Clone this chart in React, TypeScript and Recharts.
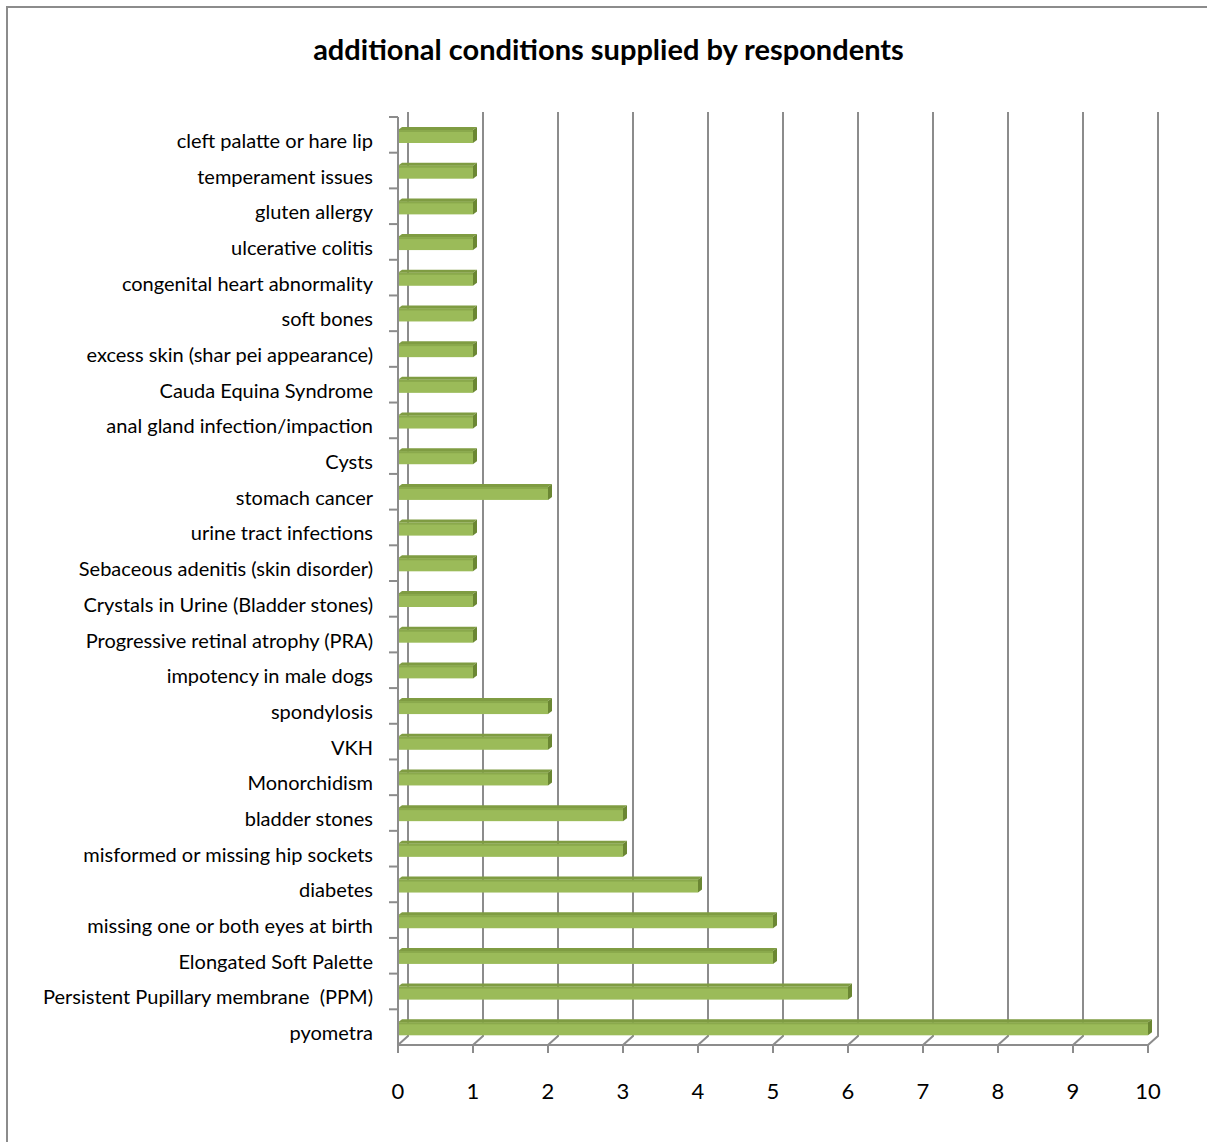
import React from "react";
import { BarChart, Bar, XAxis, YAxis, CartesianGrid } from "recharts";

const conditions = [
  "cleft palatte or hare lip",
  "temperament issues",
  "gluten allergy",
  "ulcerative colitis",
  "congenital heart abnormality",
  "soft bones",
  "excess skin (shar pei appearance)",
  "Cauda Equina Syndrome",
  "anal gland infection/impaction",
  "Cysts",
  "stomach cancer",
  "urine tract infections",
  "Sebaceous adenitis (skin disorder)",
  "Crystals in Urine (Bladder stones)",
  "Progressive retinal atrophy (PRA)",
  "impotency in male dogs",
  "spondylosis",
  "VKH",
  "Monorchidism",
  "bladder stones",
  "misformed or missing hip sockets",
  "diabetes",
  "missing one or both eyes at birth",
  "Elongated Soft Palette",
  "Persistent Pupillary membrane  (PPM)",
  "pyometra",
];

const counts = [1, 1, 1, 1, 1, 1, 1, 1, 1, 1, 2, 1, 1, 1, 1, 1, 2, 2, 2, 3, 3, 4, 5, 5, 6, 10];

const xTicks = [0, 1, 2, 3, 4, 5, 6, 7, 8, 9, 10];

const data = conditions.map((name, i) => ({ name, value: counts[i] }));

const FONT = "Lato, 'Open Sans', sans-serif";
const GRID = "#8c8c8c";
const DEPTH = 10;
const BAND = (1045 - 117) / conditions.length;

// 3D-ish bar: front face, top face and right side
const Bar3D = (props: any) => {
  const { x, y, width, height } = props;
  if (!width || width <= 0) return null;
  const d = 4;
  return (
    <g>
      <rect x={x} y={y + 3} width={width} height={height - 3} fill="#9bbb59" />
      <rect x={x} y={y + 3} width={width} height={2} fill="#8aa94c" />
      <polygon
        points={`${x},${y + 3} ${x + d},${y} ${x + width + d},${y} ${x + width},${y + 3}`}
        fill="#7f9c42"
      />
      <polygon
        points={`${x + width},${y + 3} ${x + width + d},${y} ${x + width + d},${y + height - 3} ${x + width},${y + height}`}
        fill="#6b8733"
      />
    </g>
  );
};

// gridline on the back wall with slanted foot to the front axis
const GridLine = (props: any) => {
  const { x1, y1, y2 } = props;
  return (
    <path
      key={`g-${x1}`}
      d={`M${x1 + DEPTH},${y1 - 5} L${x1 + DEPTH},${y2 - 9} L${x1},${y2}`}
      stroke={GRID}
      strokeWidth={2}
      fill="none"
    />
  );
};

const YTick = (props: any) => {
  const { y, payload } = props;
  return (
    <g>
      <line x1={389} x2={398} y1={y - BAND / 2} y2={y - BAND / 2} stroke={GRID} strokeWidth={2} />
      <text
        x={373}
        y={y + 13}
        textAnchor="end"
        fontSize={20}
        fontFamily={FONT}
        fill="#000"
        style={{ whiteSpace: "pre" }}
      >
        {payload.value}
      </text>
    </g>
  );
};

const XTick = (props: any) => {
  const { x, payload } = props;
  return (
    <text x={x} y={1099} textAnchor="middle" fontSize={22} fontFamily={FONT} fill="#000">
      {payload.value}
    </text>
  );
};

export default function App() {
  return (
    <div
      style={{
        position: "absolute",
        left: 0,
        top: 0,
        width: 1207,
        height: 1142,
        overflow: "hidden",
        background: "#fff",
      }}
    >
      <div
        style={{
          position: "absolute",
          left: 6,
          top: 6,
          width: 1260,
          height: 1200,
          border: `2px solid ${GRID}`,
        }}
      />
      <div
        style={{
          position: "absolute",
          top: 31,
          left: 0,
          width: 1217,
          textAlign: "center",
          fontFamily: FONT,
          fontWeight: "bold",
          fontSize: 29,
          color: "#000",
        }}
      >
        additional conditions supplied by respondents
      </div>
      <div style={{ position: "absolute", left: 0, top: 0 }}>
        <BarChart
          width={1207}
          height={1142}
          data={data}
          layout="vertical"
          margin={{ top: 117, right: 59, bottom: 0, left: 0 }}
          barCategoryGap={0}
        >
          <CartesianGrid horizontal={false} vertical={GridLine} />
          <XAxis
            type="number"
            domain={[0, 10]}
            ticks={xTicks}
            height={97}
            tickSize={8}
            tickLine={{ stroke: GRID, strokeWidth: 2 }}
            axisLine={{ stroke: GRID, strokeWidth: 2 }}
            tick={XTick}
            interval={0}
          />
          <YAxis
            type="category"
            dataKey="name"
            width={398}
            tickLine={false}
            axisLine={{ stroke: GRID, strokeWidth: 2 }}
            tick={YTick}
            interval={0}
          />
          <Bar dataKey="value" barSize={16} shape={Bar3D} isAnimationActive={false} />
        </BarChart>
      </div>
    </div>
  );
}
